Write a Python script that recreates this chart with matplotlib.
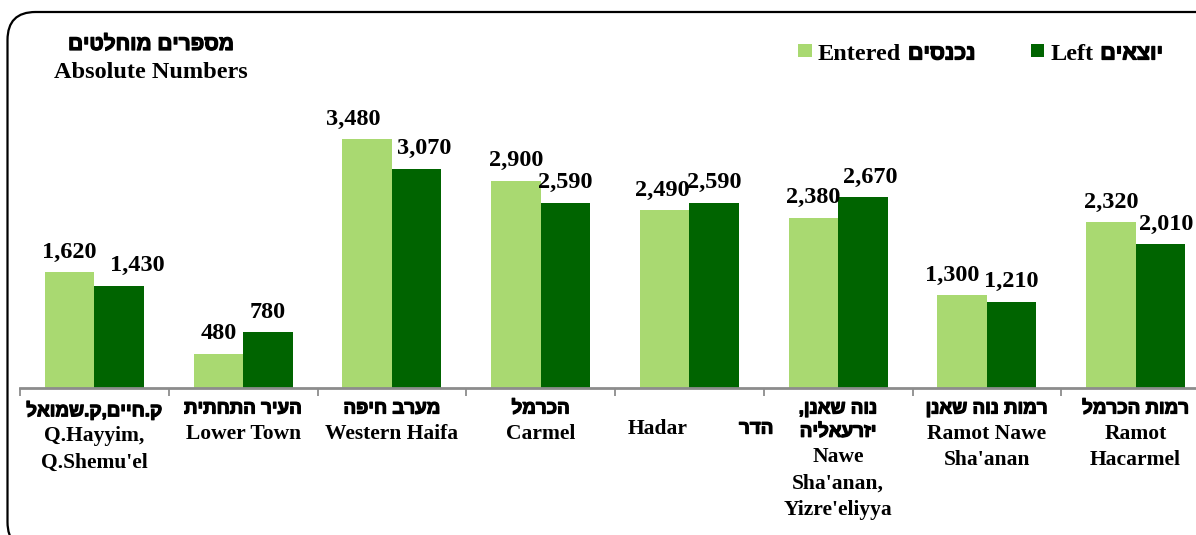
import matplotlib.pyplot as plt
import numpy as np
from matplotlib.patches import FancyBboxPatch, Rectangle
from matplotlib.transforms import IdentityTransform
from matplotlib.offsetbox import TextArea, VPacker, HPacker, DrawingArea, AnnotationBbox
import matplotlib.patheffects as pe

# data
areas_he = ["ק.חיים,ק.שמואל", "העיר התחתית", "מערב חיפה", "הכרמל", "הדר",
            "נוה שאנן,\nיזרעאליה", "רמות נוה שאנן", "רמות הכרמל"]
areas_en = ["Q.Hayyim,\nQ.Shemu'el", "Lower Town", "Western Haifa", "Carmel", "Hadar",
            "Nawe\nSha'anan,\nYizre'eliyya", "Ramot Nawe\nSha'anan", "Ramot\nHacarmel"]
entered = [1620, 480, 3480, 2900, 2490, 2380, 1300, 2320]
left = [1430, 780, 3070, 2590, 2590, 2670, 1210, 2010]
series_en = ["Entered", "Left"]
series_he = ["נכנסים", "יוצאים"]
title_he = "מספרים מוחלטים"
title_en = "Absolute Numbers"

# small sideways nudges of the value labels (pixels), like excel did
nudge_entered = [0, 0, -14, 0, -2, 0, -10, 0]
nudge_left = [18, 0, 8, 0, 0, 7, 0, 6]

light = "#a9d971"
dark = "#006400"
serif = ["Liberation Serif", "DejaVu Serif"]
sans = ["Liberation Sans", "DejaVu Sans"]
# hebrew glyphs come out thin, thicken them a little
heavy = [pe.withStroke(linewidth=0.9, foreground="black")]


def rtl(s):
    # matplotlib has no bidi, so flip hebrew text by hand
    return s[::-1]


def en_txt(s, size=15.5):
    return TextArea(s, textprops=dict(family=serif, fontweight="bold", fontsize=size))


def he_txt(s, size=13.5):
    return TextArea(rtl(s), textprops=dict(family=sans, fontweight="bold", fontsize=size,
                                           path_effects=heavy))


W, H = 1196, 535
fig = plt.figure(figsize=(W / 100, H / 100), dpi=100)
step = 148.75
ax = fig.add_axes([20 / W, 147 / H, 8 * step / W, 368 / H])

x = np.arange(len(entered))
bw = 0.333
b1 = ax.bar(x - bw / 2, entered, bw, color=light)
b2 = ax.bar(x + bw / 2, left, bw, color=dark)

ax.set_xlim(-0.5, 7.5)
ax.set_ylim(0, 5150)

for bars, vals, nud in [(b1, entered, nudge_entered), (b2, left, nudge_left)]:
    for b, v, n in zip(bars, vals, nud):
        ax.annotate(f"{v:,}", (b.get_x() + b.get_width() / 2, v),
                    xytext=(n * 0.72, 10.5), textcoords="offset points",
                    ha="center", va="baseline", fontsize=17.5,
                    fontweight="bold", family=serif)

# category labels: hebrew line(s) on top, english below
for i, (he, en) in enumerate(zip(areas_he, areas_en)):
    if en == "Hadar":
        box = HPacker(children=[en_txt(en), he_txt(he)], sep=37, pad=0, align="baseline")
        xy_off = (8, -22)
    else:
        lines = [he_txt(t) for t in he.split("\n")] + [en_txt(t) for t in en.split("\n")]
        box = VPacker(children=lines, sep=4.5, pad=0, align="center")
        xy_off = (0, -9)
    ab = AnnotationBbox(box, (i, 0), xybox=xy_off, xycoords="data",
                        boxcoords="offset points", box_alignment=(0.5, 1),
                        frameon=False, pad=0, annotation_clip=False)
    ax.add_artist(ab)

for s in ["top", "right", "left"]:
    ax.spines[s].set_visible(False)
ax.spines["bottom"].set_color("#8c8c8c")
ax.spines["bottom"].set_linewidth(2)
ax.set_yticks([])
ax.set_xticks(np.arange(-0.5, 8, 1))
ax.set_xticklabels([])
ax.tick_params(axis="x", direction="out", length=6, width=1.3, color="#8c8c8c")

# title in the top left corner
title = VPacker(children=[he_txt(title_he, 15), en_txt(title_en, 17.5)],
                sep=6, pad=0, align="center")
fig.add_artist(AnnotationBbox(title, (151 / W, 1 - 35 / H), xycoords="figure fraction",
                              box_alignment=(0.5, 1), frameon=False, pad=0))

# legend built by hand so the hebrew can use its own font
entries = []
for name_en, name_he, col in zip(series_en, series_he, [light, dark]):
    sq = DrawingArea(9.4, 11, 0, 0)
    sq.add_artist(Rectangle((0, 1.6), 9.4, 9.4, facecolor=col, edgecolor="none"))
    words = HPacker(children=[en_txt(name_en, 17.5), he_txt(name_he, 15.5)], sep=5, pad=0,
                    align="baseline")
    entries.append(HPacker(children=[sq, words], sep=4.5, pad=0, align="baseline"))
legend = HPacker(children=entries, sep=40, pad=0, align="baseline")
fig.add_artist(AnnotationBbox(legend, (1163 / W, 1 - 54 / H), xycoords="figure fraction",
                              box_alignment=(1, 0.5), frameon=False, pad=0))

# rounded chart frame
frame = FancyBboxPatch((7.5, -15), 1230, 523 + 15, boxstyle="round,pad=0,rounding_size=28",
                       transform=IdentityTransform(), facecolor="none",
                       edgecolor="black", linewidth=1.6)
fig.add_artist(frame)

fig.savefig("out.png", dpi=100)
